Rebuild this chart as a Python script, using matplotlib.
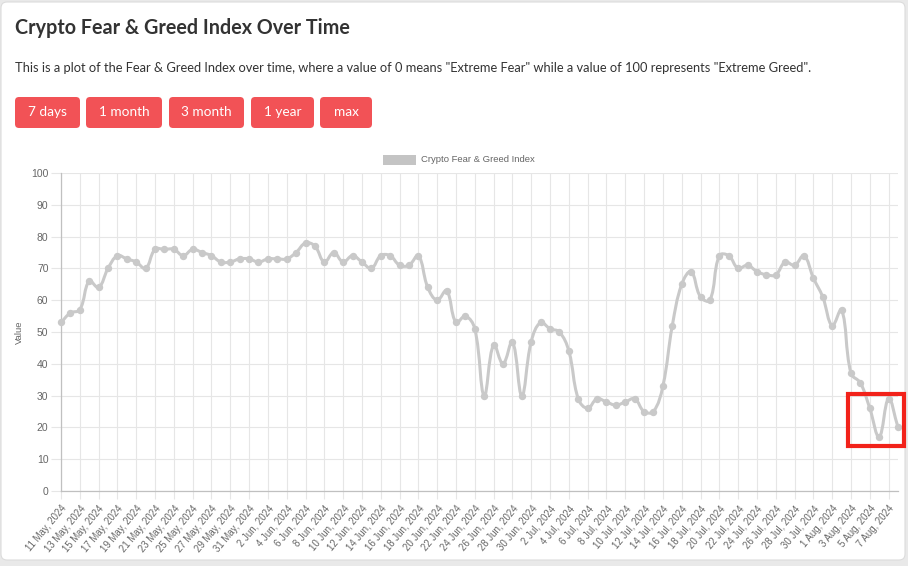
import numpy as np
import matplotlib
matplotlib.use("Agg")
import matplotlib.pyplot as plt
from matplotlib.path import Path
from matplotlib.patches import PathPatch, FancyBboxPatch, Rectangle
from matplotlib.transforms import IdentityTransform

# data, one value per day from 11 May 2024 to 8 Aug 2024
start_date = "2024-05-11"
values = [53, 56, 57, 66, 64, 70, 74, 73, 72, 70,
          76, 76, 76, 74, 76, 75, 74, 72, 72, 73,
          73, 72, 73, 73, 73, 75, 78, 77, 72, 75,
          72, 74, 72, 70, 74, 74, 71, 71, 74, 64,
          60, 63, 53, 55, 51, 30, 46, 40, 47, 30,
          47, 53, 51, 50, 44, 29, 26, 29, 28, 27,
          28, 29, 25, 25, 33, 52, 65, 69, 61, 60,
          74, 74, 70, 71, 69, 68, 68, 72, 71, 74,
          67, 61, 52, 57, 37, 34, 26, 17, 29, 20]
series_name = "Crypto Fear & Greed Index"
buttons = ["7 days", "1 month", "3 month", "1 year", "max"]
title = "Crypto Fear & Greed Index Over Time"
subtitle = ('This is a plot of the Fear & Greed Index over time, where a value of 0 means '
            '"Extreme Fear" while a value of 100 represents "Extreme Greed".')

dates = np.arange(np.datetime64(start_date), np.datetime64(start_date) + len(values))
labels = [f"{d.astype(object).day} {d.astype(object).strftime('%b')}, {d.astype(object).year}"
          for d in dates]

W, H = 908, 566
LINE = "#c9c9c9"
RED = "#f25256"
ident = IdentityTransform()

fig = plt.figure(figsize=(W / 100, H / 100), dpi=100, facecolor="#e9e9e9")

# white card behind everything
card = FancyBboxPatch((1, 6), W - 4, H - 8, boxstyle="round,pad=0,rounding_size=6",
                      facecolor="white", edgecolor="#dcdcdc", lw=0.8, transform=ident,
                      zorder=-10)
fig.add_artist(card)

fig.text(15, H - 28, title, fontsize=14.2, fontweight="bold", color="#333333",
         va="center", family="Lato", transform=ident)
fig.text(15, H - 68, subtitle, fontsize=9.3, color="#333333", va="center",
         family="Lato", transform=ident)

# buttons
btn_x = [15, 86, 169, 251, 320]
btn_w = [65, 76, 75, 63, 52]
for bx, bw, txt in zip(btn_x, btn_w, buttons):
    fig.add_artist(FancyBboxPatch((bx, H - 128), bw, 31, boxstyle="round,pad=0,rounding_size=4",
                                  facecolor=RED, edgecolor="none", transform=ident))
    fig.text(bx + bw / 2, H - 112.5, txt, fontsize=9.8, color="white", ha="center",
             va="center", family="Lato", transform=ident)

# legend
fig.add_artist(Rectangle((383, H - 165), 33, 10, facecolor="#c4c4c4", edgecolor="none",
                         transform=ident))
fig.text(421, H - 160, series_name, fontsize=6.8, color="#666666", va="center",
         family="Liberation Sans", transform=ident)

ax = fig.add_axes([61 / W, 1 - 491 / H, (898 - 61) / W, (491 - 173) / H])
ax.set_facecolor("none")
x = np.arange(len(values))
y = np.array(values, dtype=float)

# smooth line like chart.js (tension 0.4), control points computed in pixel space
sx, sy = (898 - 61) / (len(values) - 1), (491 - 173) / 100
px, py = x * sx, y * sy
n = len(values)
cp_in = np.zeros((n, 2))
cp_out = np.zeros((n, 2))
t = 0.4
for i in range(n):
    a = max(i - 1, 0)
    b = min(i + 1, n - 1)
    d01 = np.hypot(px[i] - px[a], py[i] - py[a])
    d12 = np.hypot(px[b] - px[i], py[b] - py[i])
    tot = d01 + d12
    s01 = d01 / tot if tot else 0
    s12 = d12 / tot if tot else 0
    dx, dy = px[b] - px[a], py[b] - py[a]
    cp_in[i] = (px[i] - t * s01 * dx, py[i] - t * s01 * dy)
    cp_out[i] = (px[i] + t * s12 * dx, py[i] + t * s12 * dy)
verts = [(px[0], py[0])]
codes = [Path.MOVETO]
for i in range(1, n):
    verts += [tuple(cp_out[i - 1]), tuple(cp_in[i]), (px[i], py[i])]
    codes += [Path.CURVE4] * 3
verts = np.array(verts)
verts[:, 0] /= sx
verts[:, 1] /= sy
verts[:, 1] = np.clip(verts[:, 1], 0, 100)
ax.add_patch(PathPatch(Path(verts, codes), facecolor="none", edgecolor=LINE, lw=2.2,
                       capstyle="round", joinstyle="round", zorder=3, clip_on=False))
ax.plot(x, y, "o", color=LINE, markersize=4.3, zorder=4, clip_on=False)

ax.set_xlim(0, n - 1)
ax.set_ylim(0, 100)
ax.set_yticks(np.arange(0, 101, 10))
ax.set_xticks(x[::2])
ax.set_xticklabels(labels[::2], rotation=50, ha="right", rotation_mode="anchor",
                   fontsize=6.9, color="#666666", family="Liberation Sans")
for lab in ax.get_yticklabels():
    lab.set_fontsize(7.5)
    lab.set_color("#666666")
    lab.set_family("Liberation Sans")
ax.grid(True, color="#e6e6e6", lw=0.8)
ax.set_axisbelow(True)
ax.tick_params(axis="y", length=7, color="#e6e6e6", pad=2)
ax.tick_params(axis="x", length=6, color="#e6e6e6", pad=3)
for s in ["top", "right"]:
    ax.spines[s].set_visible(False)
for s in ["left", "bottom"]:
    ax.spines[s].set_color("#c0c0c0")
    ax.spines[s].set_linewidth(0.9)
ax.set_ylabel("Value", fontsize=6.8, color="#666666", family="Liberation Sans")
ax.yaxis.set_label_coords(-(61 - 24) / (898 - 61), 0.5)

# red highlight box drawn over the last days of the series
fig.add_artist(Rectangle((847.5, H - 446), 56, 52, facecolor="none", edgecolor="#f2221a",
                         lw=3, transform=ident, zorder=10))

fig.savefig("out.png", dpi=100, facecolor=fig.get_facecolor())
